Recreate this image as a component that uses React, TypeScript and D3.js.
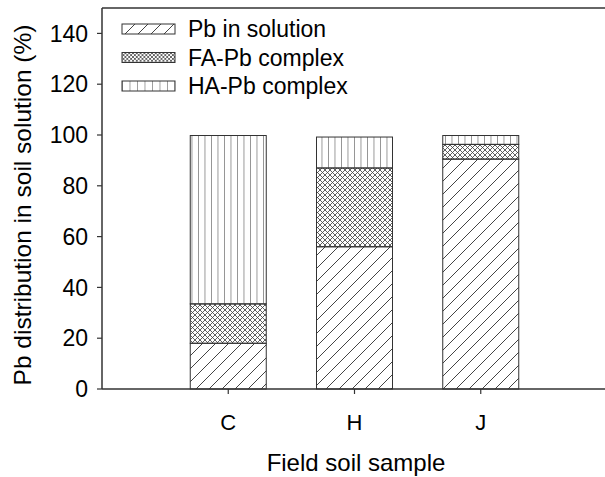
import React from "react";
import * as d3 from "d3";

const categories = ["C", "H", "J"];
const pbInSolution = [18, 56, 90.5];
const faPbComplex = [15.5, 31, 5.8];
const haPbComplex = [66.3, 12.2, 3.5];
const seriesNames = ["Pb in solution", "FA-Pb complex", "HA-Pb complex"];
const yTicks = [0, 20, 40, 60, 80, 100, 120, 140];

const W = 605;
const H = 477;
const left = 102;
const right = 607;
const top = 8;
const bottom = 389;
const FONT = "'Liberation Sans', Arial, Helvetica, sans-serif";
const STROKE = "#333";

export default function App() {
  const rows = categories.map((c, i) => ({
    cat: c,
    s0: pbInSolution[i],
    s1: faPbComplex[i],
    s2: haPbComplex[i],
  }));
  const stack = d3.stack<any>().keys(["s0", "s1", "s2"]);
  const stacked = stack(rows);
  const x = d3.scalePoint<string>().domain(categories).range([left, right]).padding(1);
  const y = d3.scaleLinear().domain([0, 150]).range([bottom, top]);
  const barW = 76;
  const patterns = ["pat-diag", "pat-cross", "pat-vert"];
  const legendPatterns = ["lpat-diag", "lpat-cross", "lpat-vert"];

  return (
    <svg
      width={W}
      height={H}
      style={{ position: "absolute", left: 0, top: 0, background: "#fff" }}
      fontFamily={FONT}
    >
      <defs>
        <pattern id="pat-diag" patternUnits="userSpaceOnUse" width={13} height={13}>
          <path d="M0,13 L13,0 M-3.25,3.25 L3.25,-3.25 M9.75,16.25 L16.25,9.75" stroke="#444" strokeWidth={1} />
        </pattern>
        <pattern id="pat-cross" patternUnits="userSpaceOnUse" width={5} height={5}>
          <path d="M0,0 L5,5 M0,5 L5,0" stroke="#444" strokeWidth={0.85} />
        </pattern>
        <pattern id="pat-vert" patternUnits="userSpaceOnUse" width={6.5} height={10} x={191.5}>
          <path d="M0,0 L0,10" stroke="#555" strokeWidth={1.2} />
        </pattern>
        <pattern id="lpat-diag" patternUnits="userSpaceOnUse" width={13} height={13} x={122} y={24}>
          <path d="M0,13 L13,0 M-3.25,3.25 L3.25,-3.25 M9.75,16.25 L16.25,9.75" stroke="#444" strokeWidth={1} />
        </pattern>
        <pattern id="lpat-cross" patternUnits="userSpaceOnUse" width={3.8} height={3.8}>
          <path d="M0,0 L3.8,3.8 M0,3.8 L3.8,0" stroke="#444" strokeWidth={0.8} />
        </pattern>
        <pattern id="lpat-vert" patternUnits="userSpaceOnUse" width={7.5} height={10} x={122}>
          <path d="M0,0 L0,10" stroke="#555" strokeWidth={1.1} />
        </pattern>
      </defs>

      {/* bars */}
      {stacked.map((layer, li) =>
        layer.map((d, i) => {
          const cx = x(categories[i]) as number;
          return (
            <rect
              key={`${li}-${i}`}
              x={cx - barW / 2}
              y={y(d[1])}
              width={barW}
              height={y(d[0]) - y(d[1])}
              fill={`url(#${patterns[li]})`}
              stroke={STROKE}
              strokeWidth={1}
            />
          );
        })
      )}

      {/* axes frame */}
      <line x1={left} x2={W} y1={top} y2={top} stroke={STROKE} strokeWidth={1.5} />
      <line x1={left} x2={left} y1={top} y2={bottom} stroke={STROKE} strokeWidth={1.5} />
      <line x1={left} x2={W} y1={bottom} y2={bottom} stroke={STROKE} strokeWidth={1.5} />

      {/* y ticks */}
      {yTicks.map((t) => (
        <g key={t}>
          <line x1={left - 5} x2={left} y1={y(t)} y2={y(t)} stroke={STROKE} strokeWidth={1.2} />
          <text x={88} y={y(t)} dy="0.36em" textAnchor="end" fontSize={23} fill="#000">
            {t}
          </text>
        </g>
      ))}

      {/* x ticks */}
      {categories.map((c) => (
        <g key={c}>
          <line x1={x(c)} x2={x(c)} y1={bottom} y2={bottom + 5} stroke={STROKE} strokeWidth={1.2} />
          <text x={x(c)} y={430} textAnchor="middle" fontSize={22} fill="#000">
            {c}
          </text>
        </g>
      ))}

      {/* axis titles */}
      <text x={356} y={471} textAnchor="middle" fontSize={24} fill="#000">
        Field soil sample
      </text>
      <text
        transform={`translate(31,${205}) rotate(-90)`}
        textAnchor="middle"
        fontSize={24.5}
        fill="#000"
      >
        Pb distribution in soil solution (%)
      </text>

      {/* legend */}
      {seriesNames.map((name, i) => {
        const cy = 29 + i * 28.5;
        return (
          <g key={name}>
            <rect
              x={122}
              y={cy - 5}
              width={53}
              height={10}
              fill={`url(#${legendPatterns[i]})`}
              stroke={STROKE}
              strokeWidth={1}
            />
            <text x={188} y={cy} dy="0.36em" fontSize={23} fill="#000">
              {name}
            </text>
          </g>
        );
      })}
    </svg>
  );
}
